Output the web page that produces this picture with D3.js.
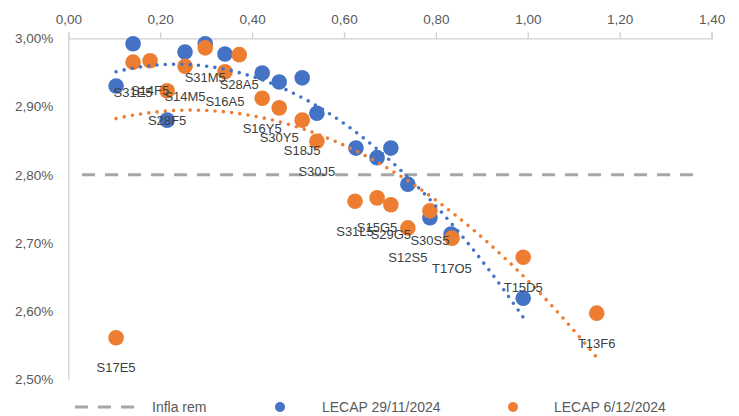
<!DOCTYPE html>
<html>
<head>
<meta charset="utf-8">
<script src="https://cdn.jsdelivr.net/npm/d3@7"></script>
<style>
  html, body { margin: 0; padding: 0; background: #fff; }
  svg { display: block; font-family: "Liberation Sans", Arial, sans-serif; }
</style>
</head>
<body>
<svg id="chart" width="739" height="416"></svg>
<script>
// Reference inflation line
const inflaX = [0.03, 1.37];
const inflaY = [2.80, 2.80];

// LECAP curve, 29/11/2024 (duration in years, TEM %)
const blueX = [0.104, 0.141, 0.215, 0.254, 0.298, 0.341, 0.422, 0.459, 0.509, 0.541, 0.626, 0.672, 0.702, 0.739, 0.787, 0.833, 0.990];
const blueY = [2.930, 2.992, 2.880, 2.980, 2.992, 2.977, 2.949, 2.936, 2.942, 2.890, 2.839, 2.825, 2.839, 2.786, 2.737, 2.713, 2.619];

// LECAP curve, 6/12/2024
const orangeLabels = ["S17E5", "S31E5", "S14F5", "S28F5", "S14M5", "S31M5", "S16A5", "S28A5", "S16Y5", "S30Y5",
                      "S18J5", "S30J5", "S31L5", "S15G5", "S29G5", "S12S5", "S30S5", "T17O5", "T15D5", "T13F6"];
const orangeX = [0.104, 0.141, 0.178, 0.215, 0.254, 0.298, 0.341, 0.372, 0.422, 0.459,
                 0.509, 0.541, 0.624, 0.672, 0.702, 0.739, 0.787, 0.835, 0.990, 1.150];
const orangeY = [2.561, 2.965, 2.967, 2.923, 2.959, 2.986, 2.951, 2.976, 2.912, 2.898,
                 2.880, 2.849, 2.761, 2.766, 2.756, 2.722, 2.747, 2.707, 2.679, 2.597];

// Axis ticks
const xTicks = [0, 0.2, 0.4, 0.6, 0.8, 1.0, 1.2, 1.4];
const yTicks = [2.5, 2.6, 2.7, 2.8, 2.9, 3.0];

const BLUE = "#4472C4", ORANGE = "#ED7D31", GREY = "#A6A6A6";

const svg = d3.select("#chart");
const x = d3.scaleLinear().domain([0, 1.4]).range([68.3, 711.6]);
const y = d3.scaleLinear().domain([2.5, 3.0]).range([379.3, 38.3]);

const comma = (v, n) => v.toFixed(n).replace(".", ",");

// Horizontal axis along the top
const xAxis = svg.append("g")
  .attr("transform", `translate(0,${y(3.0)})`)
  .call(d3.axisTop(x).tickValues(xTicks).tickSize(6).tickPadding(8).tickFormat(d => comma(d, 2)));
xAxis.select(".domain").attr("stroke", "#D0D0D0").attr("stroke-width", 1.3);
xAxis.selectAll(".tick line").attr("stroke", "#D0D0D0").attr("stroke-width", 1.3);
xAxis.selectAll("text").attr("fill", "#595959").attr("font-size", 13.5)
  .attr("font-family", "Liberation Sans, Arial, sans-serif");

// Vertical axis
const yAxis = svg.append("g")
  .attr("transform", `translate(${x(0)},0)`)
  .call(d3.axisLeft(y).tickValues(yTicks).tickSize(0).tickPadding(15).tickFormat(d => comma(d, 2) + "%"));
yAxis.select(".domain").attr("stroke", "#D0D0D0").attr("stroke-width", 1.3);
yAxis.selectAll("text").attr("fill", "#595959").attr("font-size", 13.5)
  .attr("font-family", "Liberation Sans, Arial, sans-serif");

// Dashed inflation line
const line = d3.line().x(d => x(d[0])).y(d => y(d[1]));
svg.append("path")
  .datum(d3.zip(inflaX, inflaY))
  .attr("d", line)
  .attr("fill", "none")
  .attr("stroke", GREY)
  .attr("stroke-width", 3)
  .attr("stroke-dasharray", "13 10");

// Markers
function markers(xs, ys, color) {
  svg.append("g").selectAll("circle")
    .data(d3.zip(xs, ys))
    .join("circle")
    .attr("cx", d => x(d[0]))
    .attr("cy", d => y(d[1]))
    .attr("r", 7.8)
    .attr("fill", color);
}
markers(blueX, blueY, BLUE);
markers(orangeX, orangeY, ORANGE);

// Second-order polynomial least-squares trendline
function polyFit(xs, ys) {
  const n = xs.length;
  let s = [0, 0, 0, 0, 0], t = [0, 0, 0];
  for (let i = 0; i < n; i++) {
    const xi = xs[i], yi = ys[i];
    for (let k = 0; k < 5; k++) s[k] += Math.pow(xi, k);
    for (let k = 0; k < 3; k++) t[k] += yi * Math.pow(xi, k);
  }
  const A = [[s[0], s[1], s[2], t[0]], [s[1], s[2], s[3], t[1]], [s[2], s[3], s[4], t[2]]];
  for (let c = 0; c < 3; c++) {
    for (let r = c + 1; r < 3; r++) {
      const f = A[r][c] / A[c][c];
      for (let k = c; k < 4; k++) A[r][k] -= f * A[c][k];
    }
  }
  const b = [0, 0, 0];
  for (let r = 2; r >= 0; r--) {
    let v = A[r][3];
    for (let k = r + 1; k < 3; k++) v -= A[r][k] * b[k];
    b[r] = v / A[r][r];
  }
  return v => b[0] + b[1] * v + b[2] * v * v;
}

function trend(xs, ys, color) {
  const f = polyFit(xs, ys);
  const [lo, hi] = d3.extent(xs);
  const pts = d3.range(0, 201).map(i => {
    const v = lo + (hi - lo) * i / 200;
    return [v, f(v)];
  });
  svg.append("path")
    .datum(pts)
    .attr("d", line)
    .attr("fill", "none")
    .attr("stroke", color)
    .attr("stroke-width", 3.6)
    .attr("stroke-linecap", "round")
    .attr("stroke-dasharray", "0 8.3");
}
trend(blueX, blueY, BLUE);
trend(orangeX, orangeY, ORANGE);

// Data labels under the 6/12 points
svg.append("g").selectAll("text")
  .data(orangeLabels.map((l, i) => [l, orangeX[i], orangeY[i]]))
  .join("text")
  .attr("x", d => x(d[1]))
  .attr("y", d => y(d[2]) + 30)
  .attr("dy", "0.35em")
  .attr("text-anchor", "middle")
  .attr("font-size", 13)
  .attr("fill", "#404040")
  .text(d => d[0]);

// Legend
const lg = svg.append("g").attr("font-size", 14).attr("fill", "#595959");
const ly = 407;
lg.append("line").attr("x1", 75).attr("x2", 134).attr("y1", ly).attr("y2", ly)
  .attr("stroke", GREY).attr("stroke-width", 3).attr("stroke-dasharray", "13 10");
lg.append("text").attr("x", 152).attr("y", ly).attr("dy", "0.35em").text("Infla rem");
lg.append("circle").attr("cx", 280).attr("cy", ly).attr("r", 5).attr("fill", BLUE);
lg.append("text").attr("x", 322).attr("y", ly).attr("dy", "0.35em").text("LECAP 29/11/2024");
lg.append("circle").attr("cx", 513).attr("cy", ly).attr("r", 5).attr("fill", ORANGE);
lg.append("text").attr("x", 554).attr("y", ly).attr("dy", "0.35em").text("LECAP 6/12/2024");
</script>
</body>
</html>
